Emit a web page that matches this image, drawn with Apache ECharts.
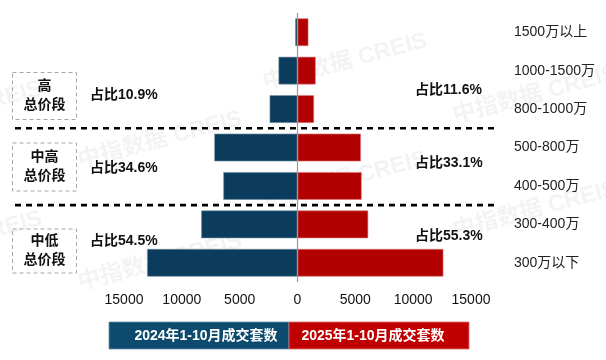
<!DOCTYPE html>
<html>
<head>
<meta charset="utf-8">
<script src="https://cdn.jsdelivr.net/npm/echarts@6/dist/echarts.min.js"></script>
<style>html,body{margin:0;padding:0;background:#fff}#c{width:606px;height:360px}</style>
</head>
<body>
<div id="c"></div>
<script>
var categories = ['1500万以上','1000-1500万','800-1000万','500-800万','400-500万','300-400万','300万以下'];
var values2024 = [200, 1640, 2410, 7190, 6410, 8320, 13000];
var values2025 = [940, 1570, 1430, 5480, 5545, 6110, 12610];
var xTicks = [-15000, 15000, 5000];
var seriesNames = ['2024年1-10月成交套数', '2025年1-10月成交套数'];
var groups = ['高\n总价段', '中高\n总价段', '中低\n总价段'];
var shareLeft = ['占比10.9%', '占比34.6%', '占比54.5%'];
var shareRight = ['占比11.6%', '占比33.1%', '占比55.3%'];

var FONT = "'Liberation Sans','Noto Sans CJK SC',Arial,sans-serif";
var BLUE = '#0b3c5d', RED = '#b20000';
var chart = echarts.init(document.getElementById('c'));

var option = {
  animation: false,
  textStyle: {fontFamily: FONT},
  grid: {left: 124, right: 135, top: 13, bottom: 78},
  xAxis: {
    type: 'value', min: xTicks[0], max: xTicks[1], interval: xTicks[2],
    axisLine: {show: false}, axisTick: {show: false}, splitLine: {show: false},
    axisLabel: {fontSize: 14, color: '#111', margin: 11, fontFamily: FONT,
      formatter: function (v) { return String(Math.abs(v)); }}
  },
  yAxis: {
    type: 'category', data: categories, inverse: true, position: 'right',
    axisLine: {show: false}, axisTick: {show: false}, splitLine: {show: false},
    axisLabel: {fontSize: 14, color: '#222', margin: 43, align: 'left', fontFamily: FONT}
  },
  series: [
    {name: seriesNames[0], type: 'bar', barWidth: '72%', barGap: '-100%',
      data: values2024.map(function (v) { return -v; }),
      itemStyle: {color: BLUE, borderColor: '#6f8ea3', borderWidth: 0.6},
      markLine: {silent: true, symbol: 'none', label: {show: false},
        lineStyle: {color: '#999', width: 1.2, type: 'solid'},
        data: [{xAxis: 0}]}
    },
    {name: seriesNames[1], type: 'bar', barWidth: '72%', barGap: '-100%',
      data: values2025,
      itemStyle: {color: RED, borderColor: '#d77', borderWidth: 0.6}
    }
  ]
};
chart.setOption(option);

function cy(i) { return chart.convertToPixel({yAxisIndex: 0}, categories[i]); }
var d1 = (cy(2) + cy(3)) / 2, d2 = (cy(4) + cy(5)) / 2;
var els = [];

// watermarks
var wm = [[-40,110],[160,140],[345,62],[535,95],[345,180],[535,210],[160,262],[-40,240]];
wm.forEach(function (p) {
  els.push({type: 'text', x: p[0], y: p[1], rotation: 0.26, z: -10, silent: true,
    style: {text: '中指数据 CREIS', fill: 'rgba(150,150,150,0.11)', font: 'bold 23px ' + FONT,
      textAlign: 'center', textVerticalAlign: 'middle'}});
});

// dashed dividers
[d1, d2].forEach(function (y) {
  els.push({type: 'line', z: 100, shape: {x1: 15, y1: y, x2: 496, y2: y},
    style: {stroke: '#000', lineWidth: 2.6, lineDash: [6, 5]}});
});

// group boxes
var boxes = [[72.5, 119.5], [143, 191], [229, 273]];
boxes.forEach(function (b, i) {
  els.push({type: 'rect', shape: {x: 12.5, y: b[0], width: 64, height: b[1] - b[0]},
    style: {fill: 'none', stroke: '#a6a6a6', lineWidth: 1, lineDash: [4, 3]}});
  els.push({type: 'text', x: 44.5, y: (b[0] + b[1]) / 2,
    style: {text: groups[i], fill: '#111', font: 'bold 14px ' + FONT, lineHeight: 19,
      textAlign: 'center', textVerticalAlign: 'middle'}});
});

// share labels
var leftY = [95.5, 168, 241.5], rightY = [90, 163.5, 236];
shareLeft.forEach(function (t, i) {
  els.push({type: 'text', x: 90, y: leftY[i],
    style: {text: t, fill: '#111', font: 'bold 14px ' + FONT, textAlign: 'left', textVerticalAlign: 'middle'}});
});
shareRight.forEach(function (t, i) {
  els.push({type: 'text', x: 415, y: rightY[i],
    style: {text: t, fill: '#111', font: 'bold 14px ' + FONT, textAlign: 'left', textVerticalAlign: 'middle'}});
});

// legend
els.push({type: 'rect', shape: {x: 109, y: 322, width: 180, height: 27}, style: {fill: '#0c4a6e', stroke: '#6d8fa6', lineWidth: 0.8}});
els.push({type: 'rect', shape: {x: 289, y: 322, width: 180, height: 27}, style: {fill: '#c00000', stroke: '#e07070', lineWidth: 0.8}});
els.push({type: 'text', x: 206, y: 336, style: {text: seriesNames[0], fill: '#fff', font: 'bold 14px ' + FONT, textAlign: 'center', textVerticalAlign: 'middle'}});
els.push({type: 'text', x: 373, y: 336, style: {text: seriesNames[1], fill: '#fff', font: 'bold 14px ' + FONT, textAlign: 'center', textVerticalAlign: 'middle'}});

chart.setOption({graphic: {elements: els}});
</script>
</body>
</html>
